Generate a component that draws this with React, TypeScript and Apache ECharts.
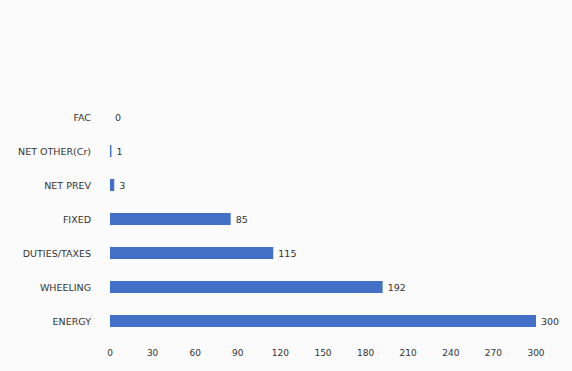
import React, { useEffect, useRef } from "react";
import * as echarts from "echarts";

const categories = ["FAC", "NET OTHER(Cr)", "NET PREV", "FIXED", "DUTIES/TAXES", "WHEELING", "ENERGY"];
const values = [0, 1, 3, 85, 115, 192, 300];
const xTicks = { min: 0, max: 300, interval: 30 };

export default function App() {
  const ref = useRef<HTMLDivElement>(null);
  useEffect(() => {
    if (!ref.current) return;
    const chart = echarts.init(ref.current, null, { renderer: "svg" });
    chart.setOption({
      animation: false,
      backgroundColor: "#fbfbfc",
      textStyle: { fontFamily: "DejaVu Sans" },
      grid: { left: 110, right: 36, top: 100, bottom: 33, containLabel: false },
      xAxis: {
        type: "value",
        min: xTicks.min,
        max: xTicks.max,
        interval: xTicks.interval,
        axisLine: { show: false },
        axisTick: { show: false },
        splitLine: { show: false },
        axisLabel: { color: "#333", fontSize: 9, margin: 10 },
      },
      yAxis: {
        type: "category",
        data: categories,
        inverse: true,
        axisLine: { show: false },
        axisTick: { show: false },
        axisLabel: { color: "#333", fontSize: 9.5, margin: 19 },
      },
      series: [
        {
          type: "bar",
          data: values,
          barWidth: 12,
          itemStyle: { color: "#4170c6" },
          label: {
            show: true,
            position: "right",
            distance: 5,
            color: "#333",
            fontSize: 9.5,
          },
        },
      ],
    });
    return () => chart.dispose();
  }, []);
  return (
    <div
      ref={ref}
      style={{ position: "fixed", left: 0, top: 0, width: 572, height: 371 }}
    />
  );
}
